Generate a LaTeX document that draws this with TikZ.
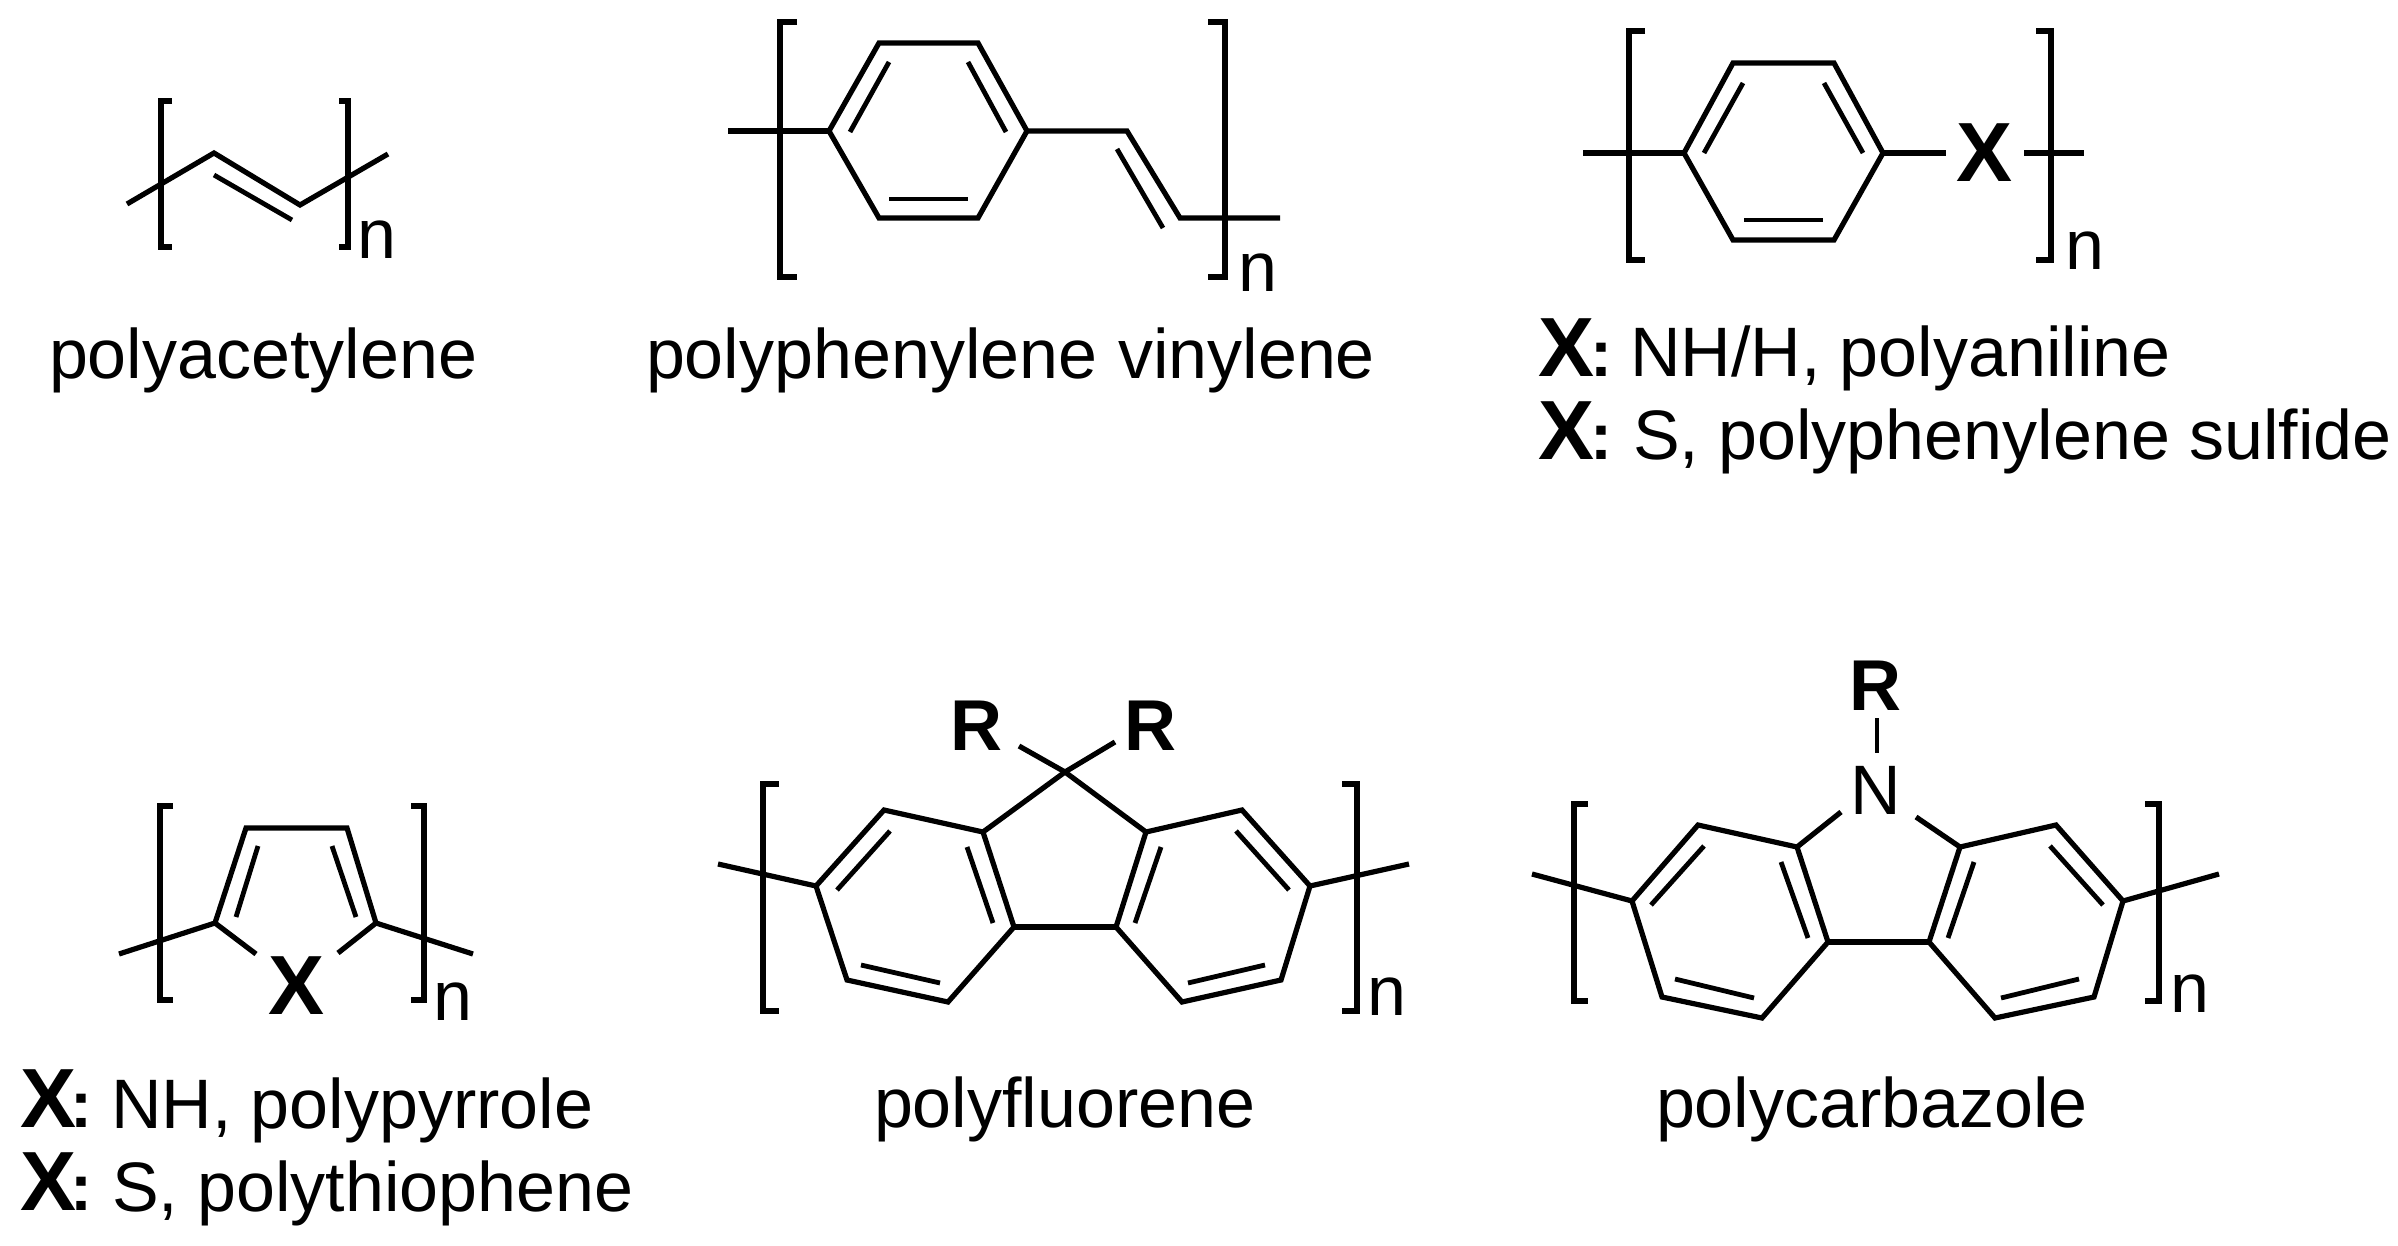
\documentclass[tikz,border=0pt]{standalone}
\usepackage{fontspec}
\setmainfont{Liberation Sans}
\tikzset{
  bond/.style={line width=2.6pt,line cap=butt,line join=miter},
  thinbond/.style={line width=2.4pt,line cap=butt},
  lab/.style={anchor=base west,inner sep=0pt,outer sep=0pt,font=\fontsize{35}{35}\selectfont},
  bigx/.style={anchor=base west,inner sep=0pt,outer sep=0pt,font=\fontsize{42}{42}\selectfont\bfseries},
  rgp/.style={anchor=base west,inner sep=0pt,outer sep=0pt,font=\fontsize{36}{36}\selectfont\bfseries},
  colonlab/.style={anchor=base west,inner sep=0pt,outer sep=0pt,font=\fontsize{33}{33}\selectfont\bfseries}
}
\begin{document}
\begin{tikzpicture}[x=0.5pt,y=-0.5pt]
\useasboundingbox (0,0) rectangle (2398,1246);
% ---------- polyacetylene
\coordinate (pa0) at (127,204);
\coordinate (pa1) at (214,153);
\coordinate (pa2) at (300,205);
\coordinate (pa3) at (388,154);
\draw[bond] (pa0)--(pa1)--(pa2)--(pa3);
\draw[thinbond] (214,175)--(292,220);
\draw[bond] (172,101)--(161,101)--(161,247)--(172,247);
\draw[bond] (339,101)--(348,101)--(348,247)--(339,247);
\node[lab] (pan) at (357,259) {n};
\node[lab] (palabel) at (49,378) {polyacetylene};
% ---------- polyphenylene vinylene
\coordinate (v0) at (728,131);
\coordinate (v1) at (829,131);
\coordinate (v2) at (879,43);
\coordinate (v3) at (978,43);
\coordinate (v4) at (1027,131);
\coordinate (v5) at (978,218);
\coordinate (v6) at (879,218);
\coordinate (v7) at (1127,131);
\coordinate (v8) at (1180,218);
\coordinate (v9) at (1280,218);
\draw[bond] (v1)--(v2)--(v3)--(v4)--(v5)--(v6)--cycle;
\draw[bond] (v0)--(v1);
\draw[bond] (v4)--(v7)--(v8)--(v9);
\draw[thinbond] (889,62)--(850,132);
\draw[thinbond] (968,62)--(1006,132);
\draw[thinbond] (889,199)--(968,199);
\draw[thinbond] (1117,149)--(1163,228);
\draw[bond] (797,22)--(780,22)--(780,277)--(797,277);
\draw[bond] (1208,22)--(1225,22)--(1225,277)--(1208,277);
\node[lab] (vn) at (1238,292) {n};
\node[lab] (vlabel) at (646,378) {polyphenylene\hspace{0.02em} vinylene};
% ---------- polyaniline / sulfide
\coordinate (s0) at (1583,153);
\coordinate (s1) at (1684,153);
\coordinate (s2) at (1733,63);
\coordinate (s3) at (1834,63);
\coordinate (s4) at (1883,153);
\coordinate (s5) at (1834,240);
\coordinate (s6) at (1733,240);
\coordinate (s7) at (1946,153);
\coordinate (s8) at (2024,153);
\coordinate (s9) at (2084,153);
\draw[bond] (s1)--(s2)--(s3)--(s4)--(s5)--(s6)--cycle;
\draw[bond] (s0)--(s1);
\draw[bond] (s4)--(s7);
\draw[bond] (s8)--(s9);
\draw[thinbond] (1743,83)--(1704,153);
\draw[thinbond] (1824,83)--(1863,153);
\draw[thinbond] (1744,220)--(1823,220);
\draw[bond] (1645,31)--(1629,31)--(1629,260)--(1645,260);
\draw[bond] (2036,31)--(2051,31)--(2051,260)--(2036,260);
\node[bigx] (sx) at (1956,182) {X};
\node[lab] (sn) at (2065,270) {n};
\node[bigx] (x1) at (1538,376) {X};
\node[colonlab] (c1) at (1590,376) {:};
\node[lab] (t1) at (1630,376) {NH/H, polyaniline};
\node[bigx] (x2) at (1538,459) {X};
\node[colonlab] (c2) at (1590,459) {:};
\node[lab] (t2) at (1633,459) {S, polyphenylene sulfide};
% ---------- polypyrrole / polythiophene
\coordinate (p0) at (119,954);
\coordinate (p1) at (215,923);
\coordinate (p2) at (246,828);
\coordinate (p3) at (347,828);
\coordinate (p4) at (376,923);
\coordinate (p5) at (473,954);
\coordinate (p6) at (256,954);
\coordinate (p7) at (338,953);
\draw[bond] (p0)--(p1)--(p2)--(p3)--(p4)--(p5);
\draw[bond] (p1)--(p6);
\draw[bond] (p4)--(p7);
\draw[thinbond] (258,846)--(236,917);
\draw[thinbond] (332,846)--(356,917);
\draw[bond] (173,806)--(160,806)--(160,1000)--(173,1000);
\draw[bond] (411,806)--(424,806)--(424,1000)--(411,1000);
\node[bigx] (px) at (268,1014) {X};
\node[lab] (pn) at (433,1020) {n};
\node[bigx] (x3) at (20,1127) {X};
\node[colonlab] (c3) at (70,1127) {:};
\node[lab] (t3) at (111,1128) {NH, polypyrrole};
\node[bigx] (x4) at (20,1210) {X};
\node[colonlab] (c4) at (70,1210) {:};
\node[lab] (t4) at (112,1211) {S, polythiophene};
% ---------- polyfluorene
\coordinate (f0) at (718,864);
\coordinate (fa) at (816,886);
\coordinate (fb) at (884,810);
\coordinate (fc) at (983,832);
\coordinate (fd) at (1014,927);
\coordinate (fe) at (948,1002);
\coordinate (ff) at (847,980);
\coordinate (fq) at (1065,772);
\coordinate (gc) at (1146,832);
\coordinate (gd) at (1116,927);
\coordinate (gb) at (1242,810);
\coordinate (ga) at (1310,886);
\coordinate (gf) at (1281,980);
\coordinate (ge) at (1182,1002);
\coordinate (g0) at (1409,864);
\coordinate (fr1) at (1019,746);
\coordinate (fr2) at (1115,742);
\draw[bond] (fa)--(fb)--(fc)--(fd)--(fe)--(ff)--cycle;
\draw[bond] (ga)--(gb)--(gc)--(gd)--(ge)--(gf)--cycle;
\draw[bond] (fc)--(fq)--(gc);
\draw[bond] (fd)--(gd);
\draw[bond] (f0)--(fa);
\draw[bond] (ga)--(g0);
\draw[bond] (fq)--(fr1);
\draw[bond] (fq)--(fr2);
\draw[thinbond] (890,831)--(837,890);
\draw[thinbond] (967,847)--(993,923);
\draw[thinbond] (861,965)--(940,983);
\draw[thinbond] (1236,831)--(1289,890);
\draw[thinbond] (1161,847)--(1135,923);
\draw[thinbond] (1265,965)--(1188,983);
\draw[bond] (779,784)--(763,784)--(763,1011)--(779,1011);
\draw[bond] (1342,784)--(1357,784)--(1357,1011)--(1342,1011);
\node[rgp] (fR1) at (950,750) {R};
\node[rgp] (fR2) at (1124,750) {R};
\node[lab] (fn) at (1367,1015) {n};
\node[lab] (flabel) at (874,1127) {polyfluorene};
% ---------- polycarbazole
\coordinate (k0) at (1532,874);
\coordinate (ka) at (1632,901);
\coordinate (kb) at (1698,825);
\coordinate (kc) at (1797,847);
\coordinate (kd) at (1828,942);
\coordinate (ke) at (1762,1018);
\coordinate (kf) at (1662,997);
\coordinate (lc) at (1960,847);
\coordinate (ld) at (1929,942);
\coordinate (lb) at (2056,825);
\coordinate (la) at (2123,901);
\coordinate (lf) at (2094,997);
\coordinate (le) at (1995,1018);
\coordinate (l0) at (2219,874);
\coordinate (kn1) at (1841,812);
\coordinate (kn2) at (1916,817);
\coordinate (kr1) at (1877,718);
\coordinate (kr2) at (1877,753);
\draw[bond] (ka)--(kb)--(kc)--(kd)--(ke)--(kf)--cycle;
\draw[bond] (la)--(lb)--(lc)--(ld)--(le)--(lf)--cycle;
\draw[bond] (kd)--(ld);
\draw[bond] (kc)--(kn1);
\draw[bond] (lc)--(kn2);
\draw[bond] (k0)--(ka);
\draw[bond] (la)--(l0);
\draw[thinbond] (kr1)--(kr2);
\draw[thinbond] (1704,846)--(1651,905);
\draw[thinbond] (1781,862)--(1808,938);
\draw[thinbond] (1675,979)--(1754,998);
\draw[thinbond] (2050,846)--(2103,905);
\draw[thinbond] (1974,862)--(1948,938);
\draw[thinbond] (2079,979)--(2001,998);
\draw[bond] (1588,804)--(1574,804)--(1574,1001)--(1588,1001);
\draw[bond] (2145,804)--(2159,804)--(2159,1001)--(2145,1001);
\node[lab] (kN) at (1850,814) {N};
\node[rgp] (kR) at (1849,710) {R};
\node[lab] (kn) at (2170,1012) {n};
\node[lab] (klabel) at (1656,1127) {polycarbazole};
\end{tikzpicture}
\end{document}
